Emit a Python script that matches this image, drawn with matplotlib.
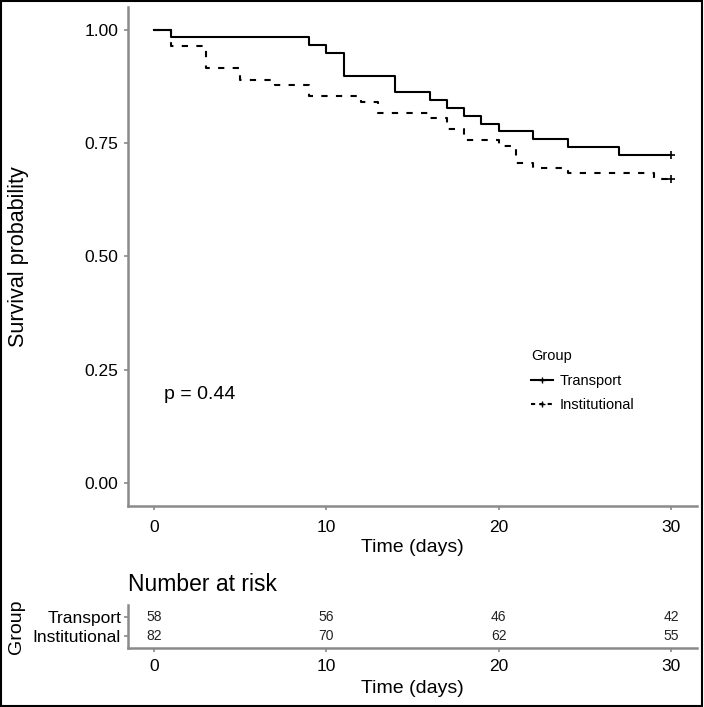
import matplotlib
matplotlib.use("Agg")
import matplotlib.pyplot as plt
from matplotlib.lines import Line2D
from matplotlib.patches import Rectangle

plt.rcParams['font.family'] = ['Liberation Sans', 'DejaVu Sans']

# Kaplan-Meier steps
transport_t = [0, 1, 9, 10, 11, 14, 16, 17, 18, 19, 20, 22, 24, 27, 30]
transport_s = [1.0, 0.983, 0.966, 0.948, 0.897, 0.862, 0.845, 0.828,
               0.810, 0.793, 0.776, 0.759, 0.741, 0.724, 0.724]
inst_t = [0, 1, 3, 5, 7, 9, 12, 13, 16, 17, 18, 20, 21, 22, 24, 29, 30]
inst_s = [1.0, 0.963, 0.915, 0.890, 0.878, 0.854, 0.841, 0.817, 0.805,
          0.780, 0.756, 0.744, 0.707, 0.695, 0.683, 0.671, 0.671]

groups = ['Transport', 'Institutional']
risk_times = [0, 10, 20, 30]
risk_transport = [58, 56, 46, 42]
risk_inst = [82, 70, 62, 55]
p_text = 'p = 0.44'

spine_col = '#8a8a8a'
W, H = 704, 707
fig = plt.figure(figsize=(W / 100, H / 100), dpi=100)

ax = fig.add_axes([128 / W, 1 - 506 / H, (697 - 128) / W, (506 - 7) / H])
ax.step(transport_t, transport_s, where='post', color='black', lw=1.5)
ax.step(inst_t, inst_s, where='post', color='black', lw=1.5, dashes=(3, 4))
ax.plot(transport_t[-1], transport_s[-1], marker='+', color='black', ms=6, mew=1.2)
ax.plot(inst_t[-1], inst_s[-1], marker='+', color='black', ms=6, mew=1.2)

ax.set_xlim(-1.5, 31.5)
ax.set_ylim(-0.05, 1.05)
ax.set_xticks(risk_times)
ax.set_yticks([0, 0.25, 0.5, 0.75, 1.0])
ax.set_yticklabels(['0.00', '0.25', '0.50', '0.75', '1.00'])
for s in ['top', 'right']:
    ax.spines[s].set_visible(False)
for s in ['left', 'bottom']:
    ax.spines[s].set_color(spine_col)
    ax.spines[s].set_linewidth(1.8)
ax.tick_params(axis='both', colors=spine_col, labelcolor='black',
               labelsize=12.5, length=3, width=1.2, pad=4)
ax.tick_params(axis='x', pad=7)
ax.set_xlabel('Time (days)', fontsize=14, labelpad=3)
ax.set_ylabel('Survival probability', fontsize=15.5)
ax.yaxis.set_label_coords(-0.174, 0.5)
ax.text(0.6, 0.195, p_text, fontsize=14, ha='left', va='center')

handles = [Line2D([], [], color='black', lw=1.5, marker='+', ms=5),
           Line2D([], [], color='black', lw=1.5, dashes=(2, 2), marker='+', ms=5)]
leg = ax.legend(handles, groups, title='Group', loc='upper left',
                bbox_to_anchor=(0.685, 0.34), frameon=False, fontsize=10.5,
                title_fontsize=10.5, handlelength=1.5, handletextpad=0.5,
                labelspacing=0.7, alignment='left')

# number at risk table
rx = fig.add_axes([128 / W, 1 - 648 / H, (697 - 128) / W, (648 - 605) / H])
rx.set_xlim(-1.5, 31.5)
rx.set_ylim(0.4, 2.6)
for t, a, b in zip(risk_times, risk_transport, risk_inst):
    rx.text(t, 2, str(a), ha='center', va='center', fontsize=10, color='#222222')
    rx.text(t, 1, str(b), ha='center', va='center', fontsize=10, color='#222222')
rx.set_xticks(risk_times)
rx.set_yticks([2, 1])
rx.set_yticklabels(groups)
for s in ['top', 'right']:
    rx.spines[s].set_visible(False)
for s in ['left', 'bottom']:
    rx.spines[s].set_color(spine_col)
    rx.spines[s].set_linewidth(1.8)
rx.tick_params(axis='both', colors=spine_col, labelcolor='black',
               labelsize=12.5, length=3, width=1.2, pad=5)
rx.tick_params(axis='y', labelsize=12.5, pad=2)
rx.set_xlabel('Time (days)', fontsize=14, labelpad=4)
rx.set_ylabel('Group', fontsize=14)
rx.yaxis.set_label_coords(-0.181, 0.5)
rx.set_title('Number at risk', fontsize=16.5, loc='left', pad=10)

fig.add_artist(Rectangle((0.001, 0.001), 0.996, 0.997, transform=fig.transFigure,
                         fill=False, edgecolor='black', lw=1.5))

fig.savefig('out.png', dpi=100)
